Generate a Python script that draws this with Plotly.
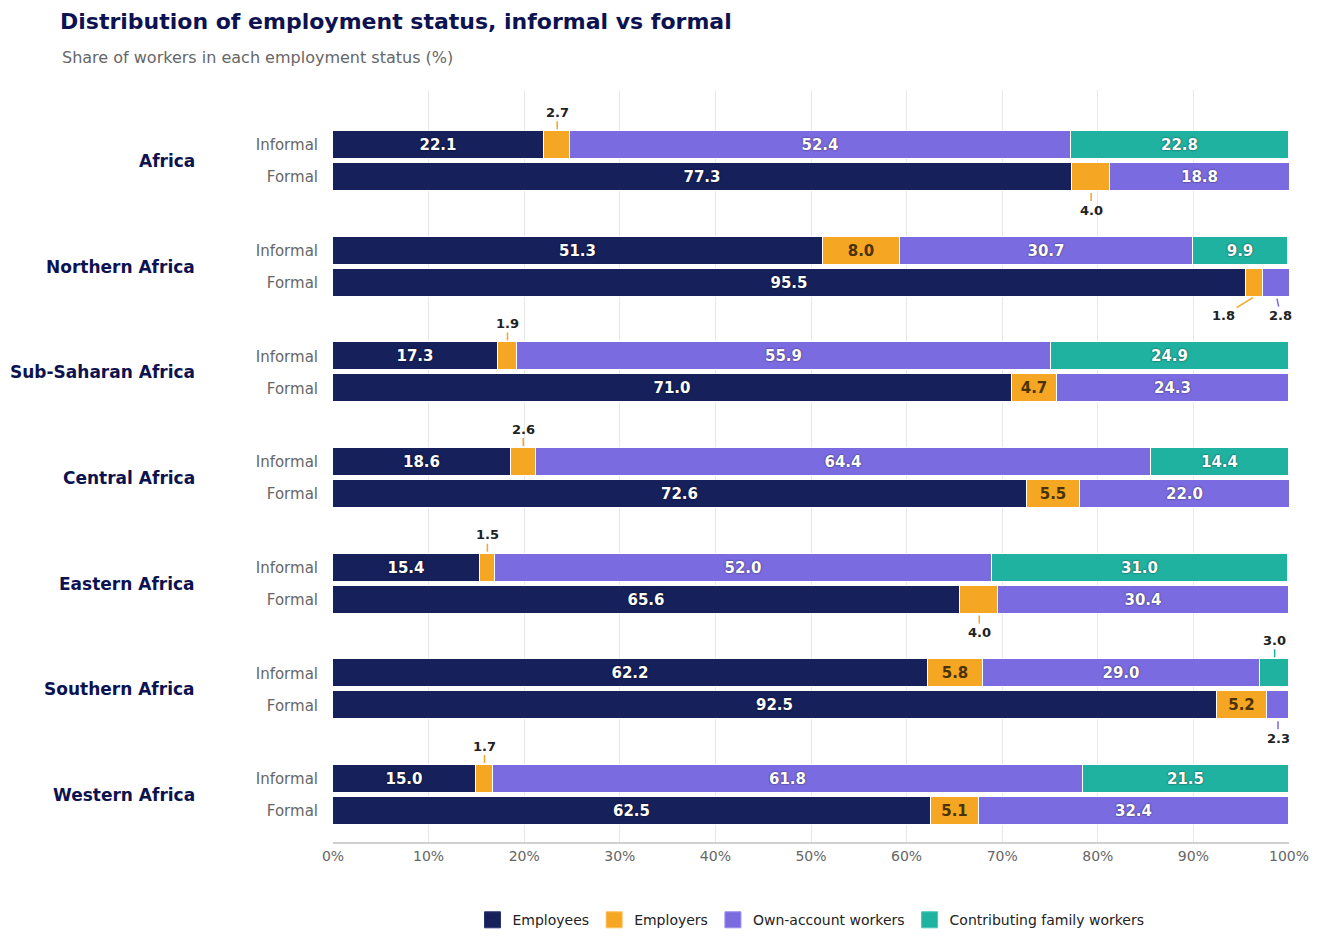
import plotly.graph_objects as go

# Datos
regiones = ["Africa", "Northern Africa", "Sub-Saharan Africa", "Central Africa",
            "Eastern Africa", "Southern Africa", "Western Africa"]
estados = ["Employees", "Employers", "Own-account workers", "Contributing family workers"]

informal_employees = [22.1, 51.3, 17.3, 18.6, 15.4, 62.2, 15.0]
informal_employers = [2.7, 8.0, 1.9, 2.6, 1.5, 5.8, 1.7]
informal_own_account = [52.4, 30.7, 55.9, 64.4, 52.0, 29.0, 61.8]
informal_family = [22.8, 9.9, 24.9, 14.4, 31.0, 3.0, 21.5]

formal_employees = [77.3, 95.5, 71.0, 72.6, 65.6, 92.5, 62.5]
formal_employers = [4.0, 1.8, 4.7, 5.5, 4.0, 5.2, 5.1]
formal_own_account = [18.8, 2.8, 24.3, 22.0, 30.4, 2.3, 32.4]
formal_family = [0, 0, 0, 0, 0, 0, 0]

colores = ["#16205a", "#f5a623", "#7b6be0", "#20b2a0"]
bordes = ["#2a3470", "#ffbf5a", "#9a8cf0", "#45c9b8"]
color_texto = ["white", "#4a3300", "white", "white"]

# Posiciones de cada fila (grupo = 3.3 unidades, fila = 1 unidad)
y_informal = [i * 3.3 for i in range(len(regiones))]
y_formal = [i * 3.3 + 1 for i in range(len(regiones))]

informal = [informal_employees, informal_employers, informal_own_account, informal_family]
formal = [formal_employees, formal_employers, formal_own_account, formal_family]

UMBRAL = 4.5  # por debajo, la etiqueta va fuera de la barra

fig = go.Figure()
for k, estado in enumerate(estados):
    xs = informal[k] + formal[k]
    ys = y_informal + y_formal
    textos = [f"{v:.1f}" if v >= UMBRAL else "" for v in xs]
    fig.add_trace(go.Bar(
        name=estado, orientation="h", x=xs, y=ys, width=0.87,
        marker=dict(color=colores[k], line=dict(color="white", width=1)),
        text=textos, textposition="inside", insidetextanchor="middle",
        textangle=0, showlegend=False,
        textfont=dict(color=color_texto[k], size=15, family="DejaVu Sans", weight="bold",
                      shadow="0px 0px 2px rgba(0,0,0,0.7)" if k != 1 else "none"),
        hoverinfo="skip",
    ))

# Entradas de leyenda con cuadrados más grandes
for k, estado in enumerate(estados):
    fig.add_trace(go.Scatter(
        name=estado, x=[None], y=[None], mode="markers",
        marker=dict(symbol="square", size=16, color=colores[k],
                    line=dict(color=bordes[k], width=1)),
    ))

# Etiquetas exteriores con línea guía para segmentos pequeños
desplazamientos = {(1, 1, 1): -31, (1, 2, 1): 4}
for fila, datos, ys, signo in [(0, informal, y_informal, -1), (1, formal, y_formal, 1)]:
    for i in range(len(regiones)):
        inicio = 0
        for k in range(4):
            v = datos[k][i]
            if 0 < v < UMBRAL:
                fig.add_annotation(
                    x=inicio + v / 2, y=ys[i] + signo * 0.435,
                    text=f"<b>{v:.1f}</b>", showarrow=True, arrowhead=0,
                    arrowwidth=1.5, arrowcolor=colores[k], standoff=2,
                    ax=desplazamientos.get((i, k, fila), 0), ay=signo * 19,
                    font=dict(size=13, color="#222222", family="DejaVu Sans"),
                )
            inicio += v

# Nombres de región a la izquierda
for i, region in enumerate(regiones):
    fig.add_annotation(
        x=-0.1423, xref="paper", y=(y_informal[i] + y_formal[i]) / 2, yref="y",
        text=f"<b>{region}</b>", showarrow=False, xanchor="right",
        font=dict(size=17, color="#0d1250", family="DejaVu Sans"),
    )

fig.add_annotation(
    x=-0.2856, xref="paper", y=1.0426, yref="paper",
    text="Share of workers in each employment status (%)", showarrow=False,
    xanchor="left", yanchor="middle",
    font=dict(size=16, color="#666666", family="DejaVu Sans"),
)

fig.update_layout(
    width=1320, height=945,
    barmode="stack",
    plot_bgcolor="white", paper_bgcolor="white",
    font=dict(family="DejaVu Sans"),
    margin=dict(l=325, r=39, t=82, b=111),
    title=dict(text="<b>Distribution of employment status, informal vs formal</b>",
               x=52 / 1320, xanchor="left", y=1 - 13 / 945, yanchor="middle",
               font=dict(size=22, color="#0d1250", family="DejaVu Sans")),
    legend=dict(orientation="h", x=0.5, xanchor="center", y=-0.104, yanchor="middle",
                font=dict(size=14, color="#222222"), traceorder="normal"),
    bargap=0,
)
fig.update_xaxes(range=[0, 100], dtick=10, ticksuffix="%", showgrid=True,
                 gridcolor="#e8e8e8", zeroline=False, showline=True,
                 linecolor="#d0d0d0", linewidth=2,
                 tickfont=dict(size=14, color="#666666"))
fig.update_yaxes(range=[y_formal[-1] + 0.97, -1.72],
                 tickvals=y_informal + y_formal,
                 ticktext=["Informal"] * len(regiones) + ["Formal"] * len(regiones),
                 showgrid=False, zeroline=False, ticklabelstandoff=14,
                 tickfont=dict(size=15, color="#666666"))

fig.write_html("out.html")
